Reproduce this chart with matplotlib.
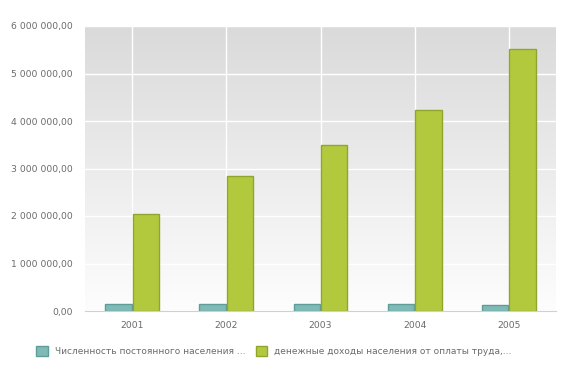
import numpy as np
import matplotlib
matplotlib.use("Agg")
import matplotlib.pyplot as plt
from matplotlib.patches import Rectangle

years = ["2001", "2002", "2003", "2004", "2005"]
population = [150000, 150000, 149000, 148000, 128000]
income = [2035000, 2840000, 3490000, 4225000, 5510000]
series_names = ["Численность постоянного населения ...",
                "денежные доходы населения от оплаты труда,..."]
y_ticks = [0, 1000000, 2000000, 3000000, 4000000, 5000000, 6000000]

teal, teal_edge = "#80bab6", "#5e9d98"
green, green_edge = "#b3c93d", "#8ea62e"
text_color = "#6b6b6b"

plt.rcParams['font.family'] = ['DejaVu Sans']

fig = plt.figure(figsize=(5.68, 3.70), dpi=100)
ax = fig.add_axes([85 / 568, 1 - 311 / 370, 471 / 568, 285 / 370])

x = np.arange(len(years))
w = 0.28

# gradient background, light at the bottom, grey at the top
grad = np.linspace(0, 1, 256).reshape(-1, 1)
ax.imshow(grad, cmap=matplotlib.colors.LinearSegmentedColormap.from_list(
    "bg", ["#fdfdfd", "#dadada"]), aspect="auto", origin="lower",
    extent=[-0.5, len(years) - 0.5, 0, 6000000], zorder=0)

ax.bar(x - w / 2 - 0.005, population, w, color=teal, edgecolor=teal_edge,
       linewidth=1, zorder=3)
ax.bar(x + w / 2 + 0.005, income, w, color=green, edgecolor=green_edge,
       linewidth=1, zorder=3)

ax.set_xlim(-0.5, len(years) - 0.5)
ax.set_ylim(0, 6000000)
ax.set_xticks(x)
ax.set_xticklabels(years)
ax.set_yticks(y_ticks)
ax.set_yticklabels([f"{v:,.2f}".replace(",", " ").replace(".", ",") for v in y_ticks])
ax.tick_params(length=0, colors=text_color, labelsize=6.7)
ax.tick_params(axis="y", pad=9)
ax.tick_params(axis="x", pad=7)
ax.grid(True, color="white", linewidth=1, zorder=1)
ax.set_axisbelow(False)
for s in ["top", "right", "left"]:
    ax.spines[s].set_visible(False)
ax.spines["bottom"].set_color("#d0d0d0")
ax.spines["bottom"].set_zorder(4)

handles = [Rectangle((0, 0), 1, 1, facecolor=teal, edgecolor=teal_edge),
           Rectangle((0, 0), 1, 1, facecolor=green, edgecolor=green_edge)]
leg = fig.legend(handles, series_names, loc="center", ncol=2,
                 bbox_to_anchor=(274 / 568, 1 - 351 / 370), frameon=False,
                 fontsize=6.5, handlelength=1.3, handleheight=1.3,
                 handletextpad=0.8, columnspacing=1.1)
for t in leg.get_texts():
    t.set_color(text_color)

fig.savefig("out.png", dpi=100)
